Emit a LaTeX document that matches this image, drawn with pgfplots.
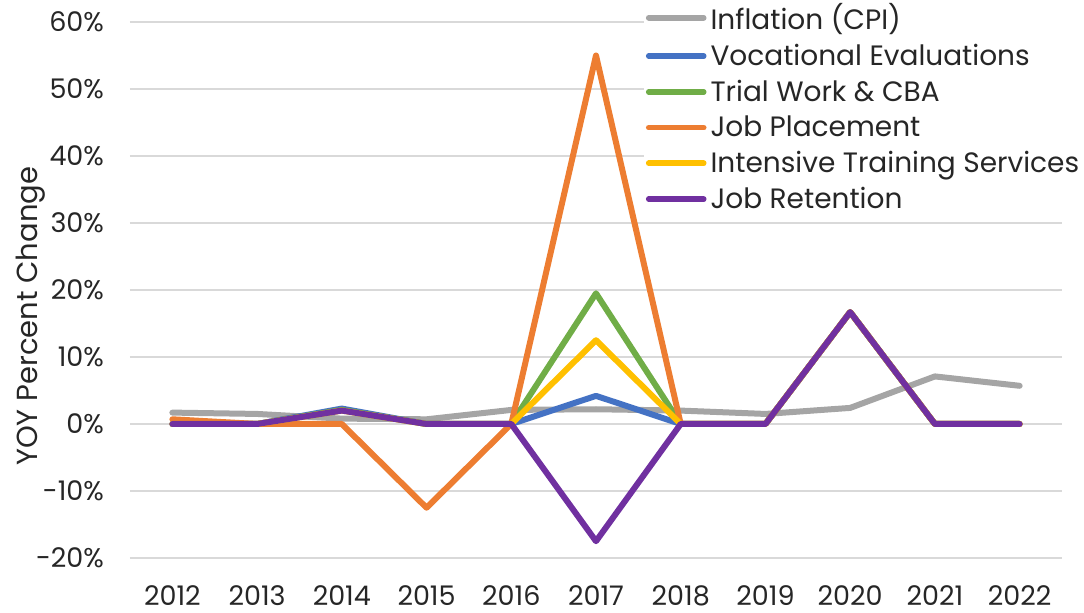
\documentclass[border=0pt]{standalone}
\usepackage{pgfplots}
\pgfplotsset{compat=1.18}
\usepackage{fontspec}
\setmainfont{Poppins}
\definecolor{cgray}{HTML}{A5A5A5}
\definecolor{cblue}{HTML}{4472C4}
\definecolor{cgreen}{HTML}{70AD47}
\definecolor{corange}{HTML}{ED7D31}
\definecolor{cyellow}{HTML}{FFC000}
\definecolor{cpurple}{HTML}{7030A0}
\definecolor{cgrid}{HTML}{D9D9D9}
\begin{document}
\begin{tikzpicture}
\useasboundingbox (0,0) rectangle (542pt,306.5pt);
\begin{axis}[
  at={(65pt,27.5pt)}, anchor=south west,
  scale only axis, width=466pt, height=268pt,
  xmin=-0.5, xmax=10.5, ymin=-20, ymax=60,
  axis line style={draw=none},
  tick style={draw=none},
  xtick={0,...,10},
  xticklabels={2012,2013,2014,2015,2016,2017,2018,2019,2020,2021,2022},
  ytick={-20,-10,0,10,20,30,40,50,60},
  yticklabels={-20\%,-10\%,0\%,10\%,20\%,30\%,40\%,50\%,60\%},
  ymajorgrids, grid style={cgrid, line width=0.9pt},
  ticklabel style={font=\fontsize{13.5}{15}\selectfont, text=black!85},
  yticklabel style={xshift=-9.5pt},
  xticklabel style={yshift=-10.5pt},
  ylabel={YOY Percent Change},
  ylabel style={at={(axis description cs:-0.107,0.451)}, anchor=center, font=\fontsize{14.5}{16}\selectfont, text=black!85},
  legend cell align=left,
  legend style={at={(axis description cs:0.551,1.047)}, anchor=north west, draw=none, fill=white,
    font=\fontsize{14}{18}\selectfont, text=black!85, inner sep=1pt, row sep=1.8pt,
    /tikz/every even column/.append style={column sep=0pt}},
  legend image code/.code={\draw[#1, line width=2.8pt, line cap=round] (0pt,0pt) -- (27.5pt,0pt);},
  every axis plot/.append style={line width=3pt, line join=round, line cap=round, mark=none},
]
\addplot[cgray] coordinates {(0,1.7) (1,1.5) (2,0.8) (3,0.7) (4,2.1) (5,2.2) (6,2.0) (7,1.5) (8,2.4) (9,7.1) (10,5.7)};
\addlegendentry{Inflation (CPI)}
\addplot[cblue] coordinates {(0,0) (1,0) (2,2.3) (3,0) (4,0) (5,4.2) (6,0) (7,0) (8,16.7) (9,0) (10,0)};
\addlegendentry{Vocational Evaluations}
\addplot[cgreen] coordinates {(0,0) (1,0) (2,2.1) (3,0) (4,0) (5,19.5) (6,0) (7,0) (8,16.7) (9,0) (10,0)};
\addlegendentry{Trial Work \& CBA}
\addplot[corange] coordinates {(0,0.7) (1,0) (2,0) (3,-12.5) (4,0) (5,55) (6,0) (7,0) (8,16.7) (9,0) (10,0)};
\addlegendentry{Job Placement}
\addplot[cyellow] coordinates {(0,0) (1,0) (2,2.0) (3,0) (4,0) (5,12.5) (6,0) (7,0) (8,16.7) (9,0) (10,0)};
\addlegendentry{Intensive Training Services}
\addplot[cpurple] coordinates {(0,0) (1,0) (2,2.0) (3,0) (4,0) (5,-17.5) (6,0) (7,0) (8,16.7) (9,0) (10,0)};
\addlegendentry{Job Retention}
\end{axis}
\end{tikzpicture}
\end{document}
